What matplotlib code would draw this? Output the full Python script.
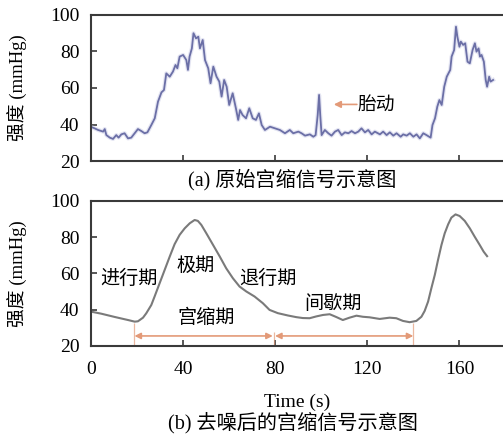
import matplotlib
matplotlib.use("Agg")
import matplotlib.pyplot as plt

# ---- data: raw contraction signal (top) ----
raw_t = [0, 1.7, 3.2, 5.4, 6.1, 6.8, 8.3, 9.7, 11.1, 12.1, 13.3, 14.7, 16.2, 17.6, 19.1,
         20.5, 22, 23.4, 24.6, 26.3, 27.8, 29.2, 30.7, 31.8, 32.8, 34.3, 35.7, 36.8, 37.6,
         38.6, 40.1, 41.5, 42.2, 42.9, 43.9, 44.6, 45.7, 46.7, 47.4, 48.6, 49.6, 51, 52,
         53.2, 54.6, 55.8, 56.8, 57.9, 59, 60.1, 61.6, 63, 64, 64.8, 65.9, 67.4, 68.8, 70.3,
         71.7, 73, 74.2, 75.6, 77.8, 80, 82.1, 84.3, 86.4, 87.9, 90.1, 91.5, 93, 95.1, 96.6,
         97.6, 98.5, 99.1, 99.6, 100.2, 101.6, 103.1, 104.5, 106, 107.4, 108.9, 110.3, 111.8,
         113.2, 114.7, 116.1, 117.5, 119, 120.4, 121.9, 123.3, 125.5, 126.9, 128.4, 129.8,
         131.3, 132.7, 134.5, 135.6, 137.1, 138.5, 140, 141.4, 142.8, 144.3, 145.7, 147.5,
         148.3, 149.4, 150.4, 151.3, 152.3, 153.4, 154.5, 156, 156.6, 157.7, 158.5, 159.1,
         160, 160.6, 161.6, 162.5, 163.5, 164.5, 165.7, 166.7, 167.4, 168.3, 168.9, 169.6,
         170.6, 171.4, 172, 172.9, 173.5, 174.6]
raw_p = [38.8, 37.9, 37, 36.1, 37.5, 34.2, 32.8, 32.1, 34.2, 32.8, 34.6, 35.2, 32.4, 32.8, 35.2,
         37.5, 36.4, 35.2, 35.7, 39.7, 43.4, 52.5, 57.6, 58.9, 68, 66.2, 69, 72.6, 70.8,
         77.2, 78.1, 75.3, 69.9, 77.2, 81.7, 90, 87.2, 88.1, 81.7, 86.3, 75.3, 70.8, 62.6,
         71.7, 66.2, 63.5, 55.3, 64.4, 60.7, 50.7, 57.1, 48.9, 42.5, 47.9, 45.2, 43.4, 48.9, 43.4,
         42.5, 46.1, 39.7, 37, 38.8, 37.9, 37, 35.2, 37, 35.2, 36.1, 35.2, 33.9, 34.6, 33.3,
         34.2, 45.2, 56.2, 45.2, 34.2, 37, 35.2, 33.9, 36.1, 37, 34.2, 35.7, 35.2,
         36.4, 35.2, 36.1, 37.9, 35.7, 37, 34.6, 36.1, 34.6, 36.1, 34.2, 35.7,
         33.9, 35.2, 33.3, 34.6, 33.9, 35.2, 33.3, 34.6, 32.4, 35.2, 34.2, 32.8,
         39.7, 43.4, 49.8, 53.4, 50.7, 60.7, 66.2, 69.9, 77.2, 80.8, 93.6, 88.1,
         82.6, 85.4, 83.6, 84.5, 74.4, 73.5, 80.8, 84.5, 79.9, 81.7, 77.2, 78.1,
         74.4, 64.4, 60.7, 66.2, 63.5, 64.4]

# ---- data: denoised signal (bottom) ----
den_t = [0.3, 4.6, 10.4, 16.2, 19.1, 20.5, 22.7, 24.1, 26.3, 27.7, 29.9, 32.1, 34.3, 36.4,
         38.6, 40.8, 43, 45.1, 46.5, 48, 50.2, 53.1, 56, 58.8, 61.7, 64.6, 67.5, 71.1, 74.7,
         77.6, 81.2, 85.6, 89.2, 92, 95, 97.9, 100.8, 103.7, 106.5, 109.4, 112.3, 115.3,
         118.1, 121, 125.4, 129.7, 132.6, 135.5, 138.4, 141.3, 143.5, 144.9, 146.4, 147.8,
         149.3, 150.7, 152.2, 153.6, 155.1, 156.5, 158.3, 160.1, 162.3, 164.5, 166.6, 168.8,
         170.5, 172]
den_p = [38.8, 37.7, 35.9, 34.2, 33.3, 33.5, 35.5, 37.9, 42.5, 47.1, 54.5, 61.9, 69.3, 76.1,
         81.3, 84.9, 87.7, 89.5, 89, 86.8, 82.1, 75.7, 69.3, 62.8, 57.3, 52.7, 50, 47.2, 43.5,
         39.8, 38, 36.7, 35.8, 35.3, 35.2, 36.2, 37, 37.4, 35.9, 34.2, 35.5, 36.6,
         36, 35.7, 34.8, 35.5, 35.2, 33.7, 33, 33.7, 36, 39.2, 44.4, 51.7,
         59.1, 67.4, 75.7, 82.1, 87.1, 90.8, 92.6, 91.7, 89, 84.9, 80.3, 75.7,
         72, 69.5]

x_ticks = [0, 40, 80, 120, 160]
y_ticks = [20, 40, 60, 80, 100]
phase_labels = ["进行期", "极期", "退行期", "宫缩期", "间歇期"]
phase_x = [16.5, 45.5, 77, 50, 105]
phase_y = [57, 64.5, 57, 35.5, 43.5]
contraction_span = [19, 79]
rest_span = [80, 140]
fetal_label = "胎动"

mixed = ["Liberation Serif", "Noto Sans CJK SC"]
cjk = ["Noto Sans CJK SC", "Liberation Serif"]
spine_c = "#3a3a3a"
orange = "#e39a78"

fig = plt.figure(figsize=(5.03, 4.38), dpi=100)
ax1 = fig.add_axes([0.1803, 0.6324, 0.8197, 0.3334])
ax2 = fig.add_axes([0.1803, 0.2107, 0.8197, 0.3304])

for ax in (ax1, ax2):
    ax.set_xlim(0, 178.9)
    ax.set_ylim(20, 100)
    ax.set_xticks(x_ticks)
    ax.set_yticks(y_ticks)
    ax.spines["right"].set_visible(False)
    for s in ("left", "top", "bottom"):
        ax.spines[s].set_color(spine_c)
        ax.spines[s].set_linewidth(1.5)
    ax.tick_params(direction="in", length=4, width=1.2, color=spine_c,
                   labelsize=14, pad=8)
    ax.tick_params(axis="x", pad=11)
    for lab in ax.get_xticklabels() + ax.get_yticklabels():
        lab.set_fontfamily("Liberation Serif")
    ax.set_ylabel("强度 (mmHg)", fontsize=13.5, family=mixed)
    ax.yaxis.set_label_coords(-0.152, 0.5)

ax1.tick_params(labelbottom=False)

ax1.plot(raw_t, raw_p, color="#c9cbe6", lw=3.0, alpha=0.5)
ax1.plot(raw_t, raw_p, color="#6b6fa6", lw=1.3)
ax2.plot(den_t, den_p, color="#7a7a7a", lw=1.5)

# fetal movement annotation
ax1.annotate("", xy=(105.5, 51), xytext=(115.5, 51),
             arrowprops=dict(arrowstyle="-|>", color=orange, lw=1.2,
                             mutation_scale=10, shrinkA=0, shrinkB=0))
ax1.text(115.8, 51, fetal_label, family=cjk, fontsize=13.5, va="center", ha="left")

# phase labels
for lab, x, y in zip(phase_labels, phase_x, phase_y):
    ax2.text(x, y, lab, family=cjk, fontsize=13.8, ha="center", va="center")

# span arrows
for a, b in (contraction_span, rest_span):
    ax2.annotate("", xy=(a, 25.4), xytext=(b, 25.4),
                 arrowprops=dict(arrowstyle="<|-|>", color=orange, lw=1.2,
                                 mutation_scale=9, shrinkA=0, shrinkB=0))
ax2.vlines([contraction_span[0], rest_span[1]], 20, 32.5, color=orange, lw=0.9, alpha=0.7)
ax2.vlines([contraction_span[1] + 0.5], 20, 27.5, color=orange, lw=0.9, alpha=0.7)

ax2.set_xlabel("Time (s)", fontsize=14, family="Liberation Serif", labelpad=11)

fig.text(0.581, 0.589, "(a) 原始宫缩信号示意图", family=mixed, fontsize=14.5,
         ha="center", va="center")
fig.text(0.583, 0.034, "(b) 去噪后的宫缩信号示意图", family=mixed, fontsize=14.5,
         ha="center", va="center")

fig.savefig("out.png", dpi=100)
